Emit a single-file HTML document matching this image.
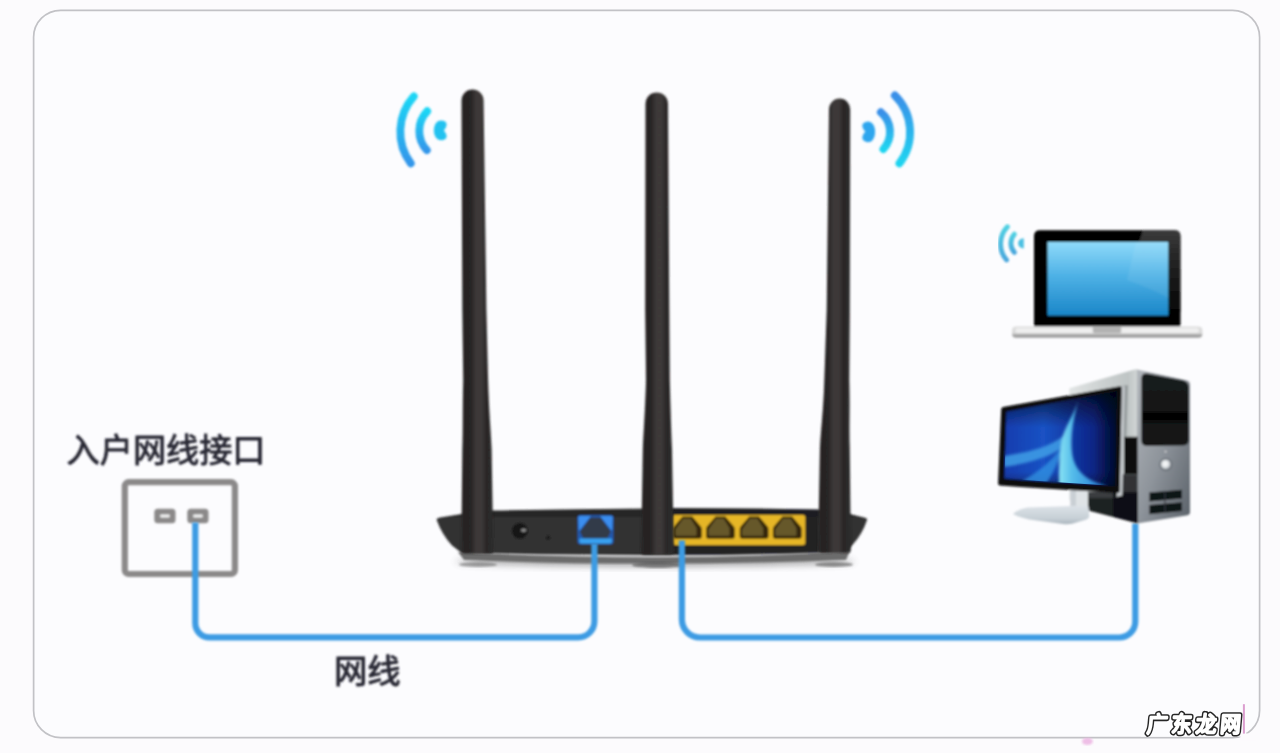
<!DOCTYPE html>
<html lang="zh"><head><meta charset="utf-8"><title>router</title>
<style>
html,body{margin:0;padding:0;background:#fcfbfd;}
body{width:1280px;height:753px;overflow:hidden;position:relative;font-family:"Liberation Sans",sans-serif;}
svg{position:absolute;left:0;top:0;display:block;}
</style></head>
<body>
<svg width="1280" height="753" viewBox="0 0 1280 753">
<defs>
<linearGradient id="ant" x1="0" x2="1" y1="0" y2="0">
 <stop offset="0" stop-color="#2a2828"/><stop offset="0.14" stop-color="#252323"/><stop offset="0.3" stop-color="#272525"/>
 <stop offset="0.46" stop-color="#3c3937"/><stop offset="0.62" stop-color="#3e3a38"/><stop offset="0.78" stop-color="#2a2828"/><stop offset="1" stop-color="#2c2a2a"/>
</linearGradient>
<linearGradient id="wifiL" x1="0" x2="0" y1="0" y2="1">
 <stop offset="0" stop-color="#1cd6f5"/><stop offset="1" stop-color="#3396ea"/>
</linearGradient>
<linearGradient id="wifiR" x1="0" x2="0" y1="0" y2="1">
 <stop offset="0" stop-color="#3a8fe8"/><stop offset="1" stop-color="#1fd4f0"/>
</linearGradient>
<linearGradient id="wifiS" x1="0" x2="0" y1="0" y2="1">
 <stop offset="0" stop-color="#4fd0e2"/><stop offset="1" stop-color="#48a6dc"/>
</linearGradient>
<linearGradient id="body" x1="0" x2="0" y1="0" y2="1">
 <stop offset="0" stop-color="#3a3a3a"/><stop offset="0.06" stop-color="#272727"/><stop offset="0.16" stop-color="#282828"/>
 <stop offset="0.22" stop-color="#323232"/><stop offset="0.9" stop-color="#333333"/><stop offset="1" stop-color="#2b2b2b"/>
</linearGradient>
<linearGradient id="scr" x1="0" x2="0" y1="0" y2="1">
 <stop offset="0" stop-color="#8fdafa"/><stop offset="0.45" stop-color="#4fb2e6"/><stop offset="1" stop-color="#1a86c8"/>
</linearGradient>
<linearGradient id="lbase" x1="0" x2="0" y1="0" y2="1">
 <stop offset="0" stop-color="#dcdcdc"/><stop offset="0.6" stop-color="#dadada"/><stop offset="0.74" stop-color="#a6a6a6"/><stop offset="1" stop-color="#9a9a9a"/>
</linearGradient>
<linearGradient id="glare" x1="0" x2="0" y1="0" y2="1"><stop offset="0" stop-color="#3c3c3c"/><stop offset="0.25" stop-color="#2a2a2a"/><stop offset="1" stop-color="#050505"/></linearGradient>
<filter id="b0" x="-2%" y="-2%" width="104%" height="104%"><feGaussianBlur stdDeviation="0.6"/></filter>
<filter id="b1" x="-10%" y="-10%" width="120%" height="120%"><feGaussianBlur stdDeviation="0.85"/></filter>
<filter id="b2" x="-10%" y="-10%" width="120%" height="120%"><feGaussianBlur stdDeviation="1.1"/></filter>
<filter id="b4" x="-20%" y="-50%" width="140%" height="200%"><feGaussianBlur stdDeviation="3.5"/></filter>
</defs>
<rect x="33.6" y="10.3" width="1226" height="727.3" rx="27" ry="27" fill="#fcfcfe" stroke="#c2c2c6" stroke-width="1.7" filter="url(#b0)"/>
<g filter="url(#b1)">
<rect x="124.8" y="482.2" width="110.1" height="91.8" rx="4" fill="none" stroke="#8b8989" stroke-width="6.2"/>
<rect x="154.3" y="508.7" width="21.2" height="14.5" rx="3.5" fill="#8b8989"/>
<rect x="160.20000000000002" y="514.6" width="9.5" height="2.9" rx="1" fill="#f4f4f4"/>
<rect x="187.3" y="508.7" width="21.2" height="14.5" rx="3.5" fill="#8b8989"/>
<rect x="193.20000000000002" y="514.6" width="9.5" height="2.9" rx="1" fill="#f4f4f4"/>
</g>
<ellipse cx="655" cy="561.5" rx="200" ry="5" fill="#444" opacity="0.45" filter="url(#b4)"/>
<path d="M458 552 Q552 557 652 557.5 Q750 557.5 850 551 L846 560 Q750 563.6 652 563.6 Q552 563.6 464 560 Z" fill="#6c6c6c" filter="url(#b2)"/>
<ellipse cx="834" cy="564.5" rx="19" ry="2.6" fill="#555" opacity="0.6" filter="url(#b2)"/>
<ellipse cx="658" cy="565" rx="26" ry="3" fill="#444" opacity="0.6" filter="url(#b2)"/>
<ellipse cx="478" cy="564.5" rx="19" ry="2.6" fill="#555" opacity="0.5" filter="url(#b2)"/>
<g filter="url(#b1)">
<path d="M436.5 519.4 Q437 518 440 517.6 L462 514 L492 510.4 Q570 509.4 645 508.6 L672 508 Q745 508 818.5 509.4 L848.6 513.8 L864 517.4 Q867.6 518.2 867 520 Q862.5 534 852.4 545 L846 551.5 Q750 555 652 555 Q552 555 461 552.5 L452 545.5 Q441.6 534 436.5 519.4 Z" fill="url(#body)"/>
<path d="M672 508.6 Q745 508.4 818.5 509.8 V553 Q745 555 672 555 Z" fill="#1c1c20" opacity="0.75"/>
<circle cx="519.9" cy="530.9" r="7.9" fill="#161616"/><ellipse cx="523.6" cy="530.2" rx="2.7" ry="1.8" fill="#8a8a8a"/>
<circle cx="548.2" cy="537.7" r="2.2" fill="#1c1c1c"/>
<rect x="577.6" y="515.2" width="35.8" height="29" rx="3" fill="#2259ae"/>
<path d="M578.4 517 Q578.6 516 580 516 H591 L579 531 Z" fill="#3b8ef0"/>
<path d="M612.6 517 Q612.4 516 611 516 H600 L612 531 Z" fill="#3b8ef0"/>
<path d="M590.2 517.4 H600.8 L611 531.4 L607.4 538.4 H583.4 L579.8 531.4 Z" fill="#333b49"/>
<path d="M579.4 538.6 H611.8 V541.4 Q611.8 543.6 609.6 543.6 H581.6 Q579.4 543.6 579.4 541.4 Z" fill="#39a1f1"/>
<rect x="672.3" y="515" width="133" height="29.9" rx="2.5" fill="#e6b627"/>
<path d="M682.6 516.4 H692.1999999999999 L700.8 526.4 Q701.8 527.4 701.8 529.4 V536 Q701.8 538.7 699.3 538.7 H675.5 Q673.0 538.7 673.0 536 V529.4 Q673.0 527.4 674.0 526.4 Z" fill="#35280a"/>
<path d="M683.1999999999999 518.6 H690.6 L696.4 528 V535.8 H675.4 V529.4 Z" fill="#66582c"/>
<path d="M715.6 516.4 H725.1999999999999 L733.8 526.4 Q734.8 527.4 734.8 529.4 V536 Q734.8 538.7 732.3 538.7 H708.5 Q706.0 538.7 706.0 536 V529.4 Q706.0 527.4 707.0 526.4 Z" fill="#35280a"/>
<path d="M716.1999999999999 518.6 H723.6 L729.4 528 V535.8 H708.4 V529.4 Z" fill="#66582c"/>
<path d="M749.3000000000001 516.4 H758.9 L767.5 526.4 Q768.5 527.4 768.5 529.4 V536 Q768.5 538.7 766.0 538.7 H742.2 Q739.7 538.7 739.7 536 V529.4 Q739.7 527.4 740.7 526.4 Z" fill="#35280a"/>
<path d="M749.9 518.6 H757.3000000000001 L763.1 528 V535.8 H742.1 V529.4 Z" fill="#66582c"/>
<path d="M782.5 516.4 H792.0999999999999 L800.6999999999999 526.4 Q801.6999999999999 527.4 801.6999999999999 529.4 V536 Q801.6999999999999 538.7 799.1999999999999 538.7 H775.4 Q772.9 538.7 772.9 536 V529.4 Q772.9 527.4 773.9 526.4 Z" fill="#35280a"/>
<path d="M783.0999999999999 518.6 H790.5 L796.3 528 V535.8 H775.3 V529.4 Z" fill="#66582c"/>
</g>
<g filter="url(#b1)">
<path d="M461.5 100.55000000000001 A11.050000000000011 11.050000000000011 0 0 1 483.6 100.55000000000001 L486.4 310 L488.1 380 C488.90000000000003 410 490.8 430 491.6 449 L493.3 550.6 Q493.3 553.6 490.3 553.6 H464.3 Q461.3 553.6 461.3 550.6 L462.3 449 C463.1 430 462.4 410 463.2 380 L462.3 310 Z" fill="url(#ant)"/>
<path d="M645.5 103.75 A11.25 11.25 0 0 1 668.0 103.75 L669.3 310 L669.8 380 C670.5999999999999 410 671.2 430 672.0 449 L673.8 551.6 Q673.8 554.6 670.8 554.6 H644.1 Q641.1 554.6 641.1 551.6 L642.8 449 C643.5999999999999 430 645.2 410 646.0 380 L645.2 310 Z" fill="url(#ant)"/>
<path d="M829.0 109.20000000000002 A10.600000000000023 10.600000000000023 0 0 1 850.2 109.20000000000002 L849.8 310 L849.3 380 C850.0999999999999 410 849.0 430 849.8 449 L850.8 549.8 Q850.8 552.8 847.8 552.8 H821.1 Q818.1 552.8 818.1 549.8 L819.9 449 C820.6999999999999 430 823.5 410 824.3 380 L826.7 310 Z" fill="url(#ant)"/>
</g>
<g fill="none" stroke="#3d9be3" stroke-width="6.2" stroke-linejoin="round" filter="url(#b1)">
<path d="M195.3 522.6 V623.3 A14 14 0 0 0 209.3 637.3 H578.4 A16 16 0 0 0 594.4 621.3 V543.6"/>
<path d="M681.9 540.4 V619.6 A18 18 0 0 0 699.9 637.5 H1119.3 A16 16 0 0 0 1135.3 621.5 V523.4"/>
</g>
<g fill="none" stroke-linecap="round" filter="url(#b1)">
<path d="M413.8 96.4 A53 53 0 0 0 410.8 163.4" stroke="url(#wifiL)" stroke-width="7.8"/>
<path d="M427.2 111.2 A28.5 28.5 0 0 0 426.8 150.2" stroke="url(#wifiL)" stroke-width="7.8"/>
<path d="M441 120.6 C448 121 448 126 443.8 130.4 C448 135 448 140 441 140.3 C431.6 140.3 431.6 120.6 441 120.6 Z" fill="#22c2f0" stroke="none"/>
<path d="M894.8 95.4 A51.4 51.4 0 0 1 899.4 163.4" stroke="url(#wifiR)" stroke-width="7.8"/>
<path d="M880.8 112.2 A25.5 25.5 0 0 1 883.4 149" stroke="url(#wifiR)" stroke-width="7.8"/>
<path d="M868 121.4 C861 122 861 127 865.4 131.6 C861 136 861 141.6 868 142.2 C877.6 142.2 877.6 121.4 868 121.4 Z" fill="#2ea6ee" stroke="none"/>
</g>
<g filter="url(#b1)">
<path d="M1034 326.6 V236 Q1034 230.3 1040 230.3 H1174.5 Q1180.5 230.3 1180.5 236 V326.6 Z" fill="#050505"/>
<path d="M1143 230.6 H1174.5 Q1180.3 230.6 1180.3 236 V312 L1168.6 312 V242 H1139 Z" fill="url(#glare)"/>
<rect x="1047.5" y="242" width="120.8" height="73.6" fill="url(#scr)"/>
<path d="M1136 242 H1168.3 V298 Q1150 288 1127 280 Z" fill="#ffffff" opacity="0.075"/>
<rect x="1012" y="326.4" width="190.4" height="11.4" rx="4" fill="url(#lbase)"/>
<rect x="1015.5" y="328" width="183.4" height="5" rx="2" fill="#eeeeee"/>
<path d="M1092.8 326.4 H1121.2 V331.2 Q1121.2 332.9 1119.5 332.9 H1094.5 Q1092.8 332.9 1092.8 331.2 Z" fill="#b2b2b2"/>
</g>
<g fill="none" stroke-linecap="round" filter="url(#b1)">
<path d="M1007.4 226.8 A24.7 24.7 0 0 0 1006.6 260" stroke="url(#wifiS)" stroke-width="4.9"/>
<path d="M1014.4 234.2 A13.5 13.5 0 0 0 1014.4 252.4" stroke="url(#wifiS)" stroke-width="4.9"/>
<path d="M1023.8 238.2 V248.4 C1016.2 248.4 1016.2 238.2 1023.8 238.2 Z" fill="#4cc0e2" stroke="none"/>
</g>
<g filter="url(#b1)">
<text x="66.6" y="461.5" font-family="&quot;Liberation Sans&quot;, &quot;Noto Sans CJK SC&quot;, sans-serif" font-size="33.15" fill="#272733" stroke="#272733" stroke-width="0.9" stroke-linejoin="round">入户网线接口</text>
<text x="334.05" y="682.8" font-family="&quot;Liberation Sans&quot;, &quot;Noto Sans CJK SC&quot;, sans-serif" font-size="33.3" fill="#272733" stroke="#272733" stroke-width="1.0" stroke-linejoin="round">网线</text>
</g>
<defs>
<linearGradient id="tside" x1="0" x2="1" y1="0" y2="0"><stop offset="0" stop-color="#e2e5e5"/><stop offset="0.5" stop-color="#cbd0d0"/><stop offset="0.85" stop-color="#bfc5c5"/><stop offset="1" stop-color="#d4d8d8"/></linearGradient>
<linearGradient id="tfront" x1="0" x2="1" y1="0" y2="1"><stop offset="0" stop-color="#b2b7bc"/><stop offset="0.5" stop-color="#8e949b"/><stop offset="1" stop-color="#5a6169"/></linearGradient>
<linearGradient id="tblk" x1="0" x2="0" y1="0" y2="1"><stop offset="0" stop-color="#1a1c1c"/><stop offset="0.5" stop-color="#151717"/><stop offset="0.55" stop-color="#060606"/><stop offset="0.64" stop-color="#060606"/><stop offset="0.7" stop-color="#131515"/><stop offset="1" stop-color="#161818"/></linearGradient>
<linearGradient id="mscr" x1="0" x2="1" y1="0" y2="0"><stop offset="0" stop-color="#143cae"/><stop offset="0.35" stop-color="#1a52c4"/><stop offset="0.72" stop-color="#0e2c92"/><stop offset="1" stop-color="#07175e"/></linearGradient>
<linearGradient id="mtop" x1="0" x2="0" y1="0" y2="1"><stop offset="0" stop-color="#01030e" stop-opacity="0.85"/><stop offset="0.1" stop-color="#01030e" stop-opacity="0.55"/><stop offset="0.38" stop-color="#020618" stop-opacity="0"/><stop offset="0.85" stop-color="#020618" stop-opacity="0"/><stop offset="1" stop-color="#020618" stop-opacity="0.4"/></linearGradient>
<linearGradient id="mright" x1="0" x2="1" y1="0" y2="0"><stop offset="0.8" stop-color="#01030e" stop-opacity="0"/><stop offset="1" stop-color="#01030e" stop-opacity="0.6"/></linearGradient>
<linearGradient id="swo" gradientUnits="userSpaceOnUse" x1="1058" x2="1104" y1="0" y2="0"><stop offset="0" stop-color="#8de6f5"/><stop offset="0.3" stop-color="#55bdea"/><stop offset="1" stop-color="#2278d6"/></linearGradient>
<linearGradient id="mbase" x1="0" x2="0" y1="0" y2="1"><stop offset="0" stop-color="#dde3e8"/><stop offset="0.7" stop-color="#c6cfd6"/><stop offset="1" stop-color="#a9b4bd"/></linearGradient>
<radialGradient id="pbtn" cx="0.45" cy="0.45" r="0.6"><stop offset="0" stop-color="#ffffff"/><stop offset="0.55" stop-color="#dfe3e6"/><stop offset="1" stop-color="#8a9097"/></radialGradient>
<clipPath id="mclip"><path d="M1006.5 411.8 L1116.5 391.4 L1115.1 486 L1004.4 478.6 Z"/></clipPath>
<filter id="b3" x="-10%" y="-10%" width="120%" height="120%"><feGaussianBlur stdDeviation="1.6"/></filter>
<filter id="bw" x="-10%" y="-10%" width="120%" height="120%"><feGaussianBlur stdDeviation="0.45"/></filter>
<filter id="bd" x="-5%" y="-5%" width="110%" height="110%"><feGaussianBlur stdDeviation="1.0"/></filter>
</defs>
<g filter="url(#bd)">
<path d="M1069.3 388.2 L1134.5 369.6 Q1136.5 369 1138.5 369.8 L1138 523 L1088 510.4 L1069.3 500 Z" fill="url(#tside)"/>
<path d="M1137 369.4 L1187 380.6 Q1190 381.4 1190 384.5 V512.5 Q1190 514.8 1187.6 515.2 L1137 523.6 Z" fill="url(#tfront)"/>
<path d="M1141.4 378.6 Q1141.4 372.4 1147.6 373.6 L1182.6 380.2 Q1188.8 381.4 1188.8 387.6 V440 Q1188.8 445.4 1183.4 445.5 L1146.8 446 Q1141.4 446 1141.4 440.6 Z" fill="url(#tblk)"/>
<circle cx="1165.8" cy="464.4" r="6.5" fill="#6a7077"/><circle cx="1165.8" cy="464.4" r="5" fill="url(#pbtn)"/>
<circle cx="1165.6" cy="451.6" r="0.9" fill="#e8e8e8"/>
<path d="M1149.4 492.6 L1182 489.8 V498.4 L1149.4 501.4 Z" fill="#111214"/>
<path d="M1149.4 505 L1182 502.2 V511 L1149.4 514.2 Z" fill="#111214"/>
<path d="M1165 490.8 V513" stroke="#383c42" stroke-width="1.2"/>
<path d="M1124 436.8 H1137.6 V474.2 H1124 Z" fill="#0a0a0b"/>
<path d="M1122 474.2 H1137.6 V494 H1122 Z" fill="#303336"/>
<path d="M1088 492 H1137.6 V523.2 L1088 510.4 Z" fill="#1f2123"/>
<path d="M1113 492 H1137.6 V523.2 L1113 516.8 Z" fill="#101112"/>
<path d="M1088 492 H1113 V498 H1088 Z" fill="#3a3d40"/>
<path d="M1070.4 489 H1087.4 V508 H1070.4 Z" fill="#dfe3e6"/>
<path d="M1070.4 489 H1076 V508 H1070.4 Z" fill="#c9cfd4"/>
<path d="M1012.9 514 Q1018 509 1027.5 507.4 L1086 505.4 Q1088.6 505.4 1088.8 508 L1089.2 516.6 Q1089 518.6 1086.4 519.6 L1072 523.8 Q1068 524.6 1063 524 L1029.3 519.4 Q1019 517.6 1012.9 514 Z" fill="url(#mbase)"/>
<path d="M1121.6 386 L1128 385 L1126.4 437 L1122 437 Z" fill="#868c8e" opacity="0.75"/>
<path d="M1121.4 385.9 L1124.8 386.6 L1122.4 495.4 L1116.4 497 L1117 491 Z" fill="#c3c7cb"/>
<path d="M1001.2 409.4 Q1001.3 407.4 1003.4 407 L1119.6 386.2 Q1121.8 385.9 1121.8 388.1 L1119.7 491 Q1119.6 493 1117.6 492.9 L1000.2 485.6 Q998 485.4 998.1 483.3 Z" fill="#09090b"/>
<path d="M1006.5 411.8 L1116.5 391.4 L1115.1 486 L1004.4 478.6 Z" fill="url(#mscr)"/>
<path d="M1006.5 411.8 L1116.5 391.4 L1115.1 486 L1004.4 478.6 Z" fill="url(#mtop)"/>
<path d="M1006.5 411.8 L1116.5 391.4 L1115.1 486 L1004.4 478.6 Z" fill="url(#mright)"/>
</g>
<g clip-path="url(#mclip)"><g filter="url(#b3)">
<path d="M1063 436 C1050 447 1030 452 1004 456 L1004 467 C1030 463 1050 457 1063 447 Z" fill="#3f9fe6" opacity="0.85"/>
<path d="M1062 446 C1053 460 1040 471 1022 481 L1046 484 C1053 473 1058 462 1062 452 Z" fill="#2f90e2" opacity="0.8"/>
<path d="M1078.4 400 C1074 415 1064 428 1061.5 441 C1059.5 455 1058.5 470 1059 486 L1108 486 C1090 482 1078 474 1073.5 460 C1069.5 446 1071.5 424 1078.4 400 Z" fill="url(#swo)"/>
</g></g>
<rect x="1141" y="706" width="105" height="30.6" fill="#fcfcfe"/><rect x="1240.6" y="733.4" width="16" height="7" fill="#fcfbfd"/><rect x="1242.9" y="704.2" width="2" height="29.4" fill="#dc9fd0" filter="url(#bw)"/><ellipse cx="1087.4" cy="741.4" rx="5.4" ry="3.6" fill="#ecb4e2" opacity="0.85" filter="url(#b2)"/><g filter="url(#bw)" stroke-linejoin="round" stroke-linecap="round" font-family="&quot;Liberation Sans&quot;, &quot;Noto Sans CJK SC&quot;, sans-serif" font-size="20.4" font-weight="300" letter-spacing="4.1"><text vector-effect="non-scaling-stroke" transform="translate(1146.40,731.70) skewX(-5) scale(1,1.07)" x="0" y="0" fill="#262626" stroke="#262626" stroke-width="5.7">广东龙网</text><text vector-effect="non-scaling-stroke" transform="translate(1146.40,731.70) skewX(-5) scale(1,1.07)" x="0" y="0" fill="#ffffff" stroke="#ffffff" stroke-width="2.7">广东龙网</text></g>
</svg>
</body></html>
